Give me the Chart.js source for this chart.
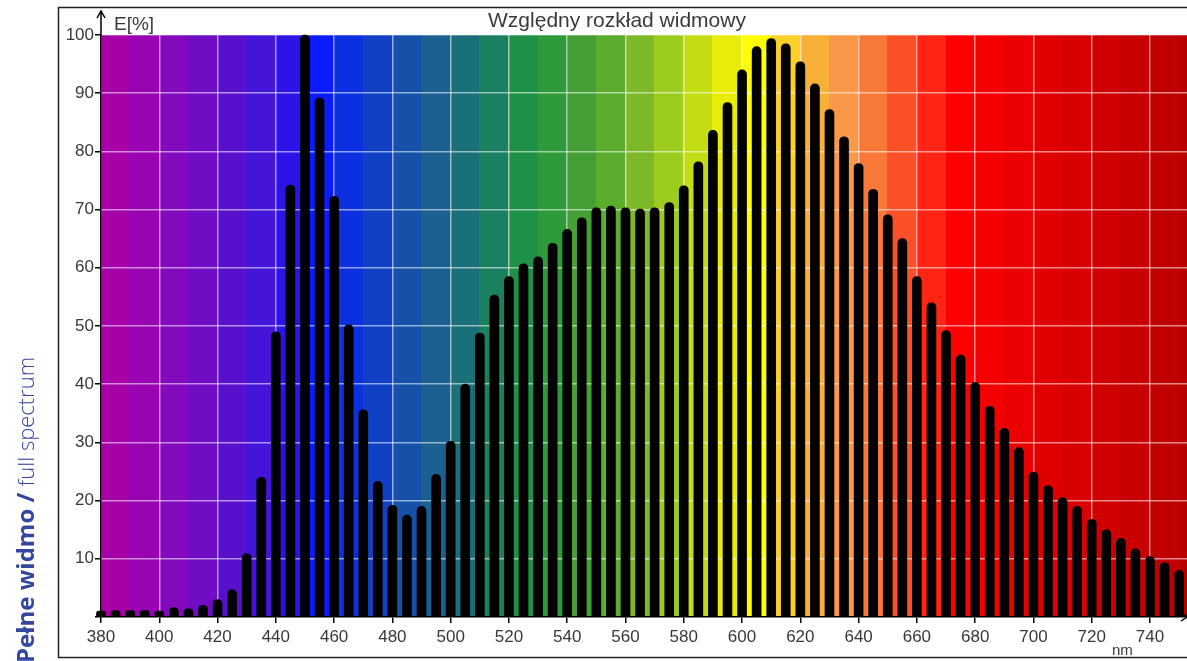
<!DOCTYPE html>
<html lang="pl">
<head>
<meta charset="utf-8">
<title>Względny rozkład widmowy</title>
<script src="https://cdn.jsdelivr.net/npm/chart.js"></script>
<style>
  html, body { margin: 0; padding: 0; background: #fff; }
  #wrap { position: relative; width: 1187px; height: 661px; }
</style>
</head>
<body>
<div id="wrap"><canvas id="spectrumChart" width="1187" height="661"></canvas></div>
<script>
"use strict";

// wavelengths (nm) and relative intensity E[%]
const wavelengths = [
  380, 385, 390, 395, 400, 405, 410, 415, 420, 425,
  430, 435, 440, 445, 450, 455, 460, 465, 470, 475,
  480, 485, 490, 495, 500, 505, 510, 515, 520, 525,
  530, 535, 540, 545, 550, 555, 560, 565, 570, 575,
  580, 585, 590, 595, 600, 605, 610, 615, 620, 625,
  630, 635, 640, 645, 650, 655, 660, 665, 670, 675,
  680, 685, 690, 695, 700, 705, 710, 715, 720, 725,
  730, 735, 740, 745, 750
];
const intensity = [
  1.0, 1.1, 1.1, 1.1, 1.0, 1.6, 1.4, 2.0, 3.0, 4.7,
  10.9, 24.0, 49.0, 74.2, 100, 89.2, 72.3, 50.2, 35.6, 23.3,
  19.2, 17.5, 19.0, 24.5, 30.2, 40.0, 48.8, 55.3, 58.5, 60.7,
  61.9, 64.2, 66.6, 68.6, 70.3, 70.6, 70.3, 70.1, 70.3, 71.2,
  74.1, 78.2, 83.6, 88.4, 94.0, 98.0, 99.4, 98.5, 95.4, 91.6,
  87.2, 82.5, 77.9, 73.5, 69.1, 65.0, 58.5, 54.0, 49.2, 45.0,
  40.3, 36.2, 32.4, 29.1, 24.9, 22.6, 20.5, 19.0, 16.8, 15.0,
  13.5, 11.7, 10.4, 9.3, 8.0
];
const xTickStep = 20;
const yTickStep = 10;

const chartTitle = "Względny rozkład widmowy";
const yAxisLabel = "E[%]";
const xAxisLabel = "nm";
const sideTitleBold = "Pełne widmo / ";
const sideTitleLight = "full spectrum";

// background spectrum, one colour per 10 nm band starting at 380
const bandColors = [
  "#a800a8", "#9804b4", "#8408bc", "#700cc4", "#5810cc", "#4414d8", "#2c14e8",
  "#0a1cff", "#0c30e0", "#1040c4", "#1650a8", "#1a6090", "#1a7078", "#1a8060",
  "#1e9048", "#2e9a3a", "#44a034", "#5cac2e", "#7cb828", "#9ccc20", "#c4dc14",
  "#e8ec08", "#ffff00", "#fcd028", "#f8b038", "#f89848", "#f87838", "#fc5028",
  "#ff2414", "#ff0000", "#f40000", "#ea0000", "#e00000", "#d80000", "#d00000",
  "#c80000", "#c00000", "#b80000"
];

const spectrumPlugin = {
  id: "spectrum",
  beforeDraw(chart) {
    const { ctx, chartArea: area, scales } = chart;
    ctx.save();
    ctx.fillStyle = "#fff";
    ctx.fillRect(0, 0, chart.width, chart.height);
    ctx.beginPath();
    ctx.rect(area.left, area.top, area.right - area.left, area.bottom - area.top);
    ctx.clip();
    bandColors.forEach((color, i) => {
      const x0 = scales.x.getPixelForValue(380 + i * 10);
      const x1 = scales.x.getPixelForValue(390 + i * 10);
      ctx.fillStyle = color;
      ctx.fillRect(Math.floor(x0), area.top, Math.ceil(x1 - x0) + 1, area.bottom - area.top);
    });
    ctx.restore();
  },
  afterDraw(chart) {
    const { ctx, chartArea: area } = chart;
    ctx.save();

    // frame round the plot
    ctx.strokeStyle = "#222";
    ctx.lineWidth = 1.5;
    ctx.strokeRect(58.5, 7.5, 1140, 650);

    // axis arrows
    ctx.strokeStyle = "#000";
    ctx.lineWidth = 1.5;
    ctx.beginPath();
    ctx.moveTo(area.left, area.top);
    ctx.lineTo(area.left, 12);
    ctx.moveTo(area.left - 4, 18);
    ctx.lineTo(area.left, 11);
    ctx.lineTo(area.left + 4, 18);
    ctx.moveTo(area.right - 6, area.bottom - 4);
    ctx.lineTo(area.right, area.bottom);
    ctx.lineTo(area.right - 6, area.bottom + 4);
    ctx.stroke();

    // texts
    ctx.fillStyle = "#3a3a3a";
    ctx.font = "21px 'Liberation Sans', Arial, sans-serif";
    ctx.textAlign = "center";
    ctx.textBaseline = "alphabetic";
    ctx.fillText(chartTitle, 617, 27);

    ctx.textAlign = "left";
    ctx.font = "19px 'Liberation Sans', Arial, sans-serif";
    ctx.fillText(yAxisLabel, 114, 30);

    ctx.font = "15px 'Liberation Sans', Arial, sans-serif";
    ctx.fillText(xAxisLabel, 1112, 655);

    // rotated side title
    ctx.translate(34, 663);
    ctx.rotate(-Math.PI / 2);
    ctx.fillStyle = "#3347a0";
    ctx.font = "bold 24px 'Open Sans', sans-serif";
    ctx.fillText(sideTitleBold, 0, 0);
    const w = ctx.measureText(sideTitleBold).width;
    ctx.font = "300 22px 'Open Sans', sans-serif";
    ctx.fillText(sideTitleLight, w, 0);

    ctx.restore();
  }
};

document.addEventListener("DOMContentLoaded", () => {
  const canvas = document.getElementById("spectrumChart");

  const points = wavelengths.map((w, i) => ({ x: w, y: intensity[i] }));
  const tickFont = { family: "'Liberation Sans', Arial, sans-serif", size: 17 };

  new Chart(canvas, {
    type: "bar",
    data: {
      datasets: [{
        data: points,
        backgroundColor: "#000",
        barThickness: 9,
        borderRadius: { topLeft: 4.5, topRight: 4.5 },
        borderSkipped: "bottom",
        clip: false
      }]
    },
    plugins: [spectrumPlugin],
    options: {
      responsive: false,
      animation: false,
      layout: { padding: { left: 58, top: 35, right: 0, bottom: 0 } },
      plugins: {
        legend: { display: false },
        tooltip: { enabled: false }
      },
      scales: {
        x: {
          type: "linear",
          min: 380,
          max: 752.7,
          offset: false,
          afterFit: (scale) => { scale.height = 44; },
          ticks: {
            stepSize: xTickStep,
            includeBounds: false,
            color: "#383838",
            font: tickFont,
            padding: 4,
            maxRotation: 0,
            autoSkip: false
          },
          grid: {
            offset: false,
            color: "rgba(255,255,255,0.55)",
            lineWidth: 1.5,
            tickColor: "#000",
            tickLength: 6
          },
          border: { display: true, color: "#000", width: 1.5 }
        },
        y: {
          min: 0,
          max: 100,
          afterFit: (scale) => { scale.width = 43; },
          ticks: {
            stepSize: yTickStep,
            color: "#383838",
            font: tickFont,
            padding: 1,
            callback: (v) => (v === 0 ? "" : v)
          },
          grid: {
            color: "rgba(255,255,255,0.55)",
            lineWidth: 1.5,
            tickColor: "#000",
            tickLength: 6
          },
          border: { display: true, color: "#000", width: 1.5 }
        }
      }
    }
  });
});
</script>
</body>
</html>
